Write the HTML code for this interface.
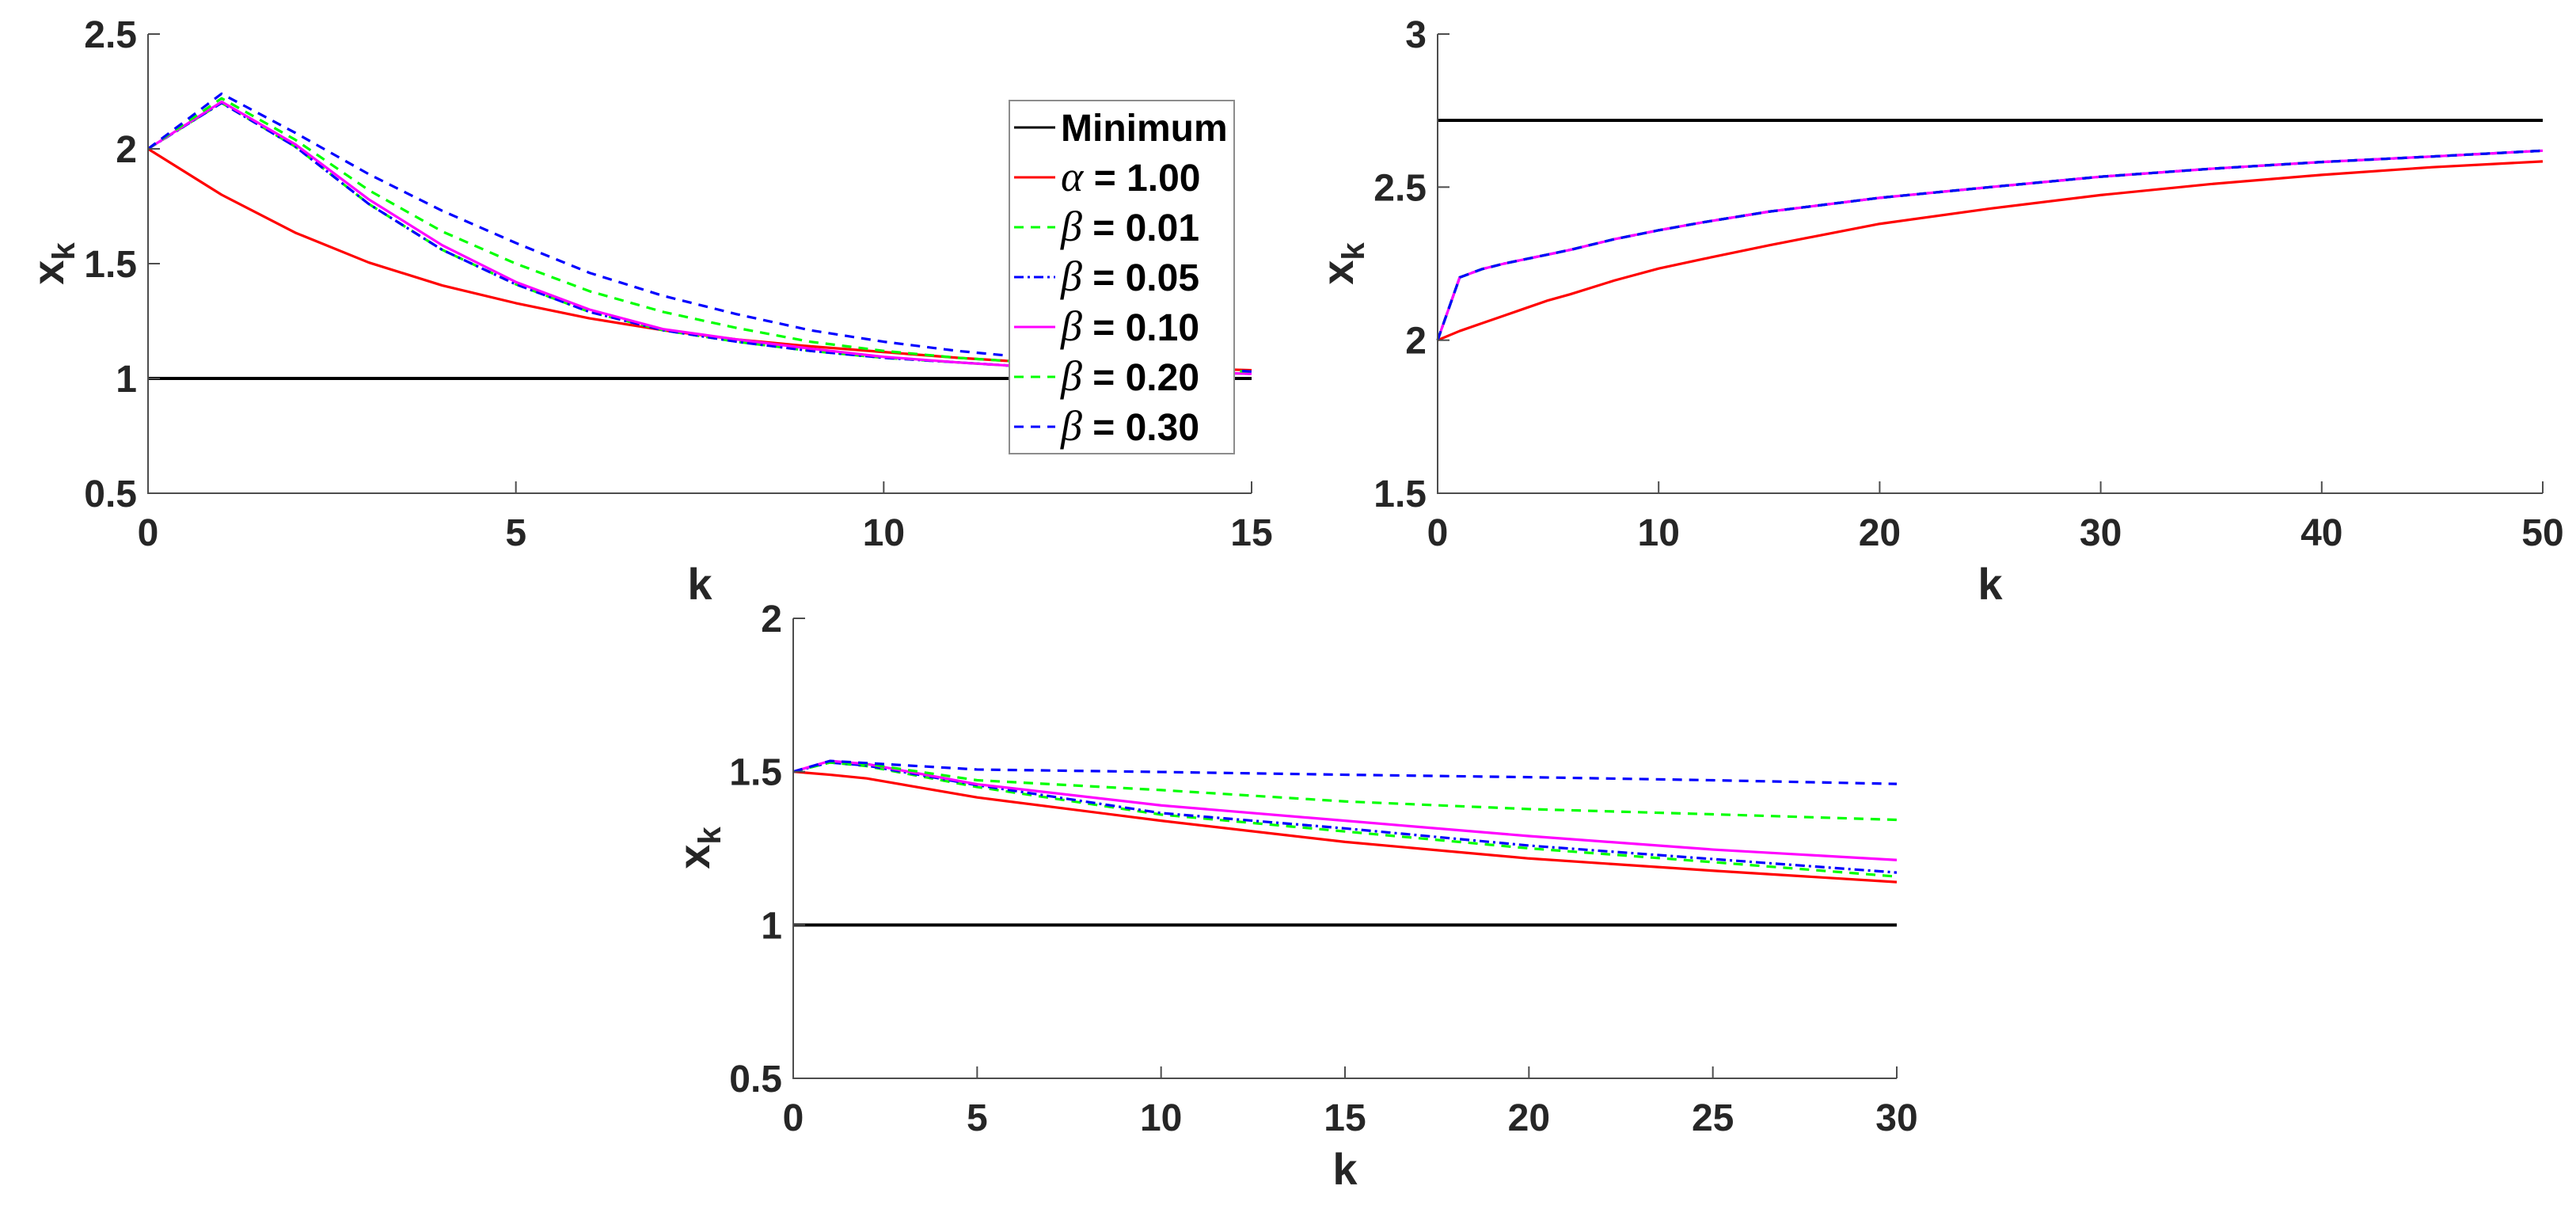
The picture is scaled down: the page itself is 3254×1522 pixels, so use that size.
<!DOCTYPE html>
<html><head><meta charset="utf-8"><style>
html,body{margin:0;padding:0;background:#fff;}
svg{display:block;}
.tick{font-family:"Liberation Sans",sans-serif;font-weight:bold;font-size:48px;fill:#262626;}
.lab{font-family:"Liberation Sans",sans-serif;font-weight:bold;font-size:56px;fill:#262626;}
.leg{font-family:"Liberation Sans",sans-serif;font-weight:bold;font-size:48px;fill:#000;}
.greek{font-family:"Liberation Serif",serif;font-style:italic;font-weight:normal;font-size:54px;}
</style></head><body>
<svg id="fig" width="3254" height="1522" viewBox="0 0 3254 1522" xmlns="http://www.w3.org/2000/svg"></svg>
<script>
// ---- Plot 1 data ----
const k1 = [0,1,2,3,4,5,6,7,8,9,10,11,12,13,14,15];
const p1Alpha = [2,1.80,1.635,1.505,1.405,1.328,1.262,1.21,1.17,1.14,1.115,1.09,1.07,1.055,1.045,1.036];
const p1B01 = [2,2.20,2.01,1.76,1.56,1.41,1.29,1.21,1.16,1.12,1.09,1.07,1.05,1.04,1.03,1.02];
const p1B05 = [2,2.20,2.01,1.76,1.56,1.41,1.29,1.21,1.16,1.12,1.09,1.07,1.05,1.04,1.03,1.02];
const p1B10 = [2,2.205,2.02,1.78,1.58,1.42,1.30,1.215,1.17,1.13,1.094,1.07,1.05,1.04,1.03,1.02];
const p1B20 = [2,2.22,2.04,1.82,1.64,1.50,1.38,1.29,1.22,1.16,1.12,1.09,1.07,1.05,1.04,1.03];
const p1B30 = [2,2.24,2.07,1.89,1.73,1.59,1.46,1.36,1.28,1.21,1.16,1.12,1.09,1.07,1.05,1.03];
const p1Min = 1;
const p1XTicks = [0,5,10,15];
const p1YTicks = [0.5,1,1.5,2,2.5];
// ---- Plot 2 data ----
const k2 = [0,1,2,3,4,5,6,8,10,12,15,20,25,30,35,40,45,50];
const p2Alpha = [2,2.03,2.055,2.08,2.105,2.13,2.15,2.195,2.234,2.265,2.31,2.38,2.43,2.474,2.51,2.54,2.565,2.584];
const p2Beta = [2,2.205,2.232,2.25,2.265,2.28,2.295,2.33,2.359,2.385,2.42,2.465,2.50,2.534,2.56,2.582,2.60,2.619];
const p2Min = 2.718;
const p2XTicks = [0,10,20,30,40,50];
const p2YTicks = [1.5,2,2.5,3];
// ---- Plot 3 data ----
const k3 = [0,1,2,5,10,15,20,25,30];
const p3Alpha = [1.5,1.49,1.478,1.416,1.34,1.271,1.217,1.177,1.14];
const p3B01 = [1.5,1.53,1.518,1.45,1.36,1.305,1.25,1.205,1.158];
const p3B05 = [1.5,1.53,1.52,1.456,1.365,1.315,1.259,1.215,1.171];
const p3B10 = [1.5,1.535,1.525,1.459,1.39,1.34,1.29,1.246,1.212];
const p3B20 = [1.5,1.53,1.525,1.472,1.44,1.403,1.378,1.361,1.343];
const p3B30 = [1.5,1.535,1.528,1.507,1.499,1.49,1.482,1.472,1.46];
const p3Min = 1;
const p3XTicks = [0,5,10,15,20,25,30];
const p3YTicks = [0.5,1,1.5,2];

const NS="http://www.w3.org/2000/svg";
const svg=document.getElementById('fig');
function mk(tag,attrs,parent){const e=document.createElementNS(NS,tag);for(const a in attrs)e.setAttribute(a,attrs[a]);(parent||svg).appendChild(e);return e;}

const styles={
 alpha:{c:'#ff0000',d:''},
 b01:{c:'#00ff00',d:'12 9'},
 b05:{c:'#0000ff',d:'12 5 3 5'},
 b10:{c:'#ff00ff',d:''},
 b20:{c:'#00ff00',d:'12 9'},
 b30:{c:'#0000ff',d:'12 9'}
};

function plot(id,box,xr,yr,xt,yt,series,minVal,ylab){
 const g=mk('g',{});
 
 
 const sx=v=>box.l+(v-xr[0])/(xr[1]-xr[0])*(box.r-box.l);
 const sy=v=>box.b-(v-yr[0])/(yr[1]-yr[0])*(box.b-box.t);
 const ml=mk('line',{x1:sx(xr[0]),x2:sx(xr[1]),y1:sy(minVal),y2:sy(minVal),stroke:'#000','stroke-width':4},g);
 
 
 series.forEach(s=>{
  const st=styles[s.key];
  const pts=s.x.map((xv,i)=>sx(xv)+','+sy(s.y[i])).join(' ');
  const pl=mk('polyline',{points:pts,fill:'none',stroke:st.c,'stroke-width':3.2,'stroke-dasharray':st.d,'stroke-linejoin':'round'},g);
  
  
 });
 const ax=mk('path',{d:`M${box.l},${box.t}V${box.b}H${box.r}`,fill:'none',stroke:'#4d4d4d','stroke-width':2},g);
 
 
 xt.forEach(v=>{
  mk('line',{x1:sx(v),x2:sx(v),y1:box.b,y2:box.b-15,stroke:'#4d4d4d','stroke-width':2},g);
  const t=mk('text',{x:sx(v),y:box.b+66,'text-anchor':'middle',class:'tick'},g);
  t.textContent=v;
  
  
 });
 yt.forEach(v=>{
  mk('line',{x1:box.l,x2:box.l+15,y1:sy(v),y2:sy(v),stroke:'#4d4d4d','stroke-width':2},g);
  const t=mk('text',{x:box.l-14,y:sy(v)+17,'text-anchor':'end',class:'tick'},g);
  t.textContent=v;
  
  
 });
 const xl=mk('text',{x:(box.l+box.r)/2,y:box.b+134,'text-anchor':'middle',class:'lab'},g);
 xl.textContent='k';
 
 
 const yl=mk('text',{transform:`translate(${ylab.x},${ylab.y}) rotate(-90)`,'text-anchor':'middle',class:'lab'},g);
 yl.innerHTML='x<tspan font-size="40" dy="14">k</tspan>';
 
 
}

plot('plot-top-left',{l:187,r:1581,t:43,b:623},[0,15],[0.5,2.5],p1XTicks,p1YTicks,[
 {key:'alpha',x:k1,y:p1Alpha},{key:'b01',x:k1,y:p1B01},{key:'b05',x:k1,y:p1B05},
 {key:'b10',x:k1,y:p1B10},{key:'b20',x:k1,y:p1B20},{key:'b30',x:k1,y:p1B30}],p1Min,{x:80,y:333});
plot('plot-top-right',{l:1816,r:3212,t:43,b:623},[0,50],[1.5,3],p2XTicks,p2YTicks,[
 {key:'alpha',x:k2,y:p2Alpha},{key:'b01',x:k2,y:p2Beta},{key:'b05',x:k2,y:p2Beta},
 {key:'b10',x:k2,y:p2Beta},{key:'b20',x:k2,y:p2Beta},{key:'b30',x:k2,y:p2Beta}],p2Min,{x:1709,y:333});
plot('plot-bottom',{l:1002,r:2396,t:781,b:1362},[0,30],[0.5,2],p3XTicks,p3YTicks,[
 {key:'alpha',x:k3,y:p3Alpha},{key:'b01',x:k3,y:p3B01},{key:'b05',x:k3,y:p3B05},
 {key:'b10',x:k3,y:p3B10},{key:'b20',x:k3,y:p3B20},{key:'b30',x:k3,y:p3B30}],p3Min,{x:896,y:1071});

const lg=mk('g',{});


mk('rect',{x:1275,y:127,width:284,height:446,fill:'#fff',stroke:'#8c8c8c','stroke-width':2},lg);
const legKeys=['min','alpha','b01','b05','b10','b20','b30'];
const legNum=['','1.00','0.01','0.05','0.10','0.20','0.30'];
legKeys.forEach((key,i)=>{
 const y=161+i*63;
 const c=key==='min'?'#000':styles[key].c, d=key==='min'?'':styles[key].d;
 mk('line',{x1:1281,x2:1333,y1:y,y2:y,stroke:c,'stroke-width':3,'stroke-dasharray':d},lg);
 const t=mk('text',{x:1340,y:y+17,class:'leg'},lg);
 
 
 if(key==='min'){t.textContent='Minimum';}
 else{t.innerHTML='<tspan class="greek">'+(key==='alpha'?'α':'β')+'</tspan> = '+legNum[i];}
});
</script>
</body></html>
